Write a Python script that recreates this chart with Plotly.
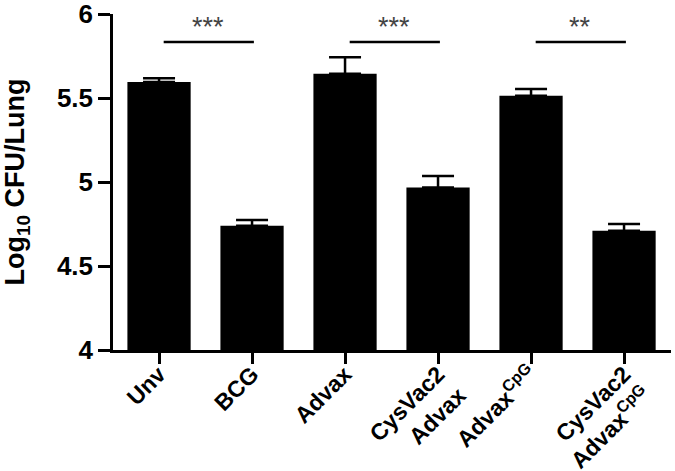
import plotly.graph_objects as go

groups = ["Unv", "BCG", "Advax", "CysVac2<br>Advax", "Advax<sup>CpG</sup>", "CysVac2<br>Advax<sup>CpG</sup>"]
means = [5.595, 4.740, 5.645, 4.968, 5.514, 4.710]
sem = [0.022, 0.034, 0.097, 0.068, 0.039, 0.040]

# significance brackets: (left group, right group, label)
sig_pairs = [(0, 1, "***"), (2, 3, "***"), (4, 5, "**")]
sig_level = 5.833

x = list(range(len(groups)))

fig = go.Figure()
fig.add_trace(
    go.Bar(
        x=x,
        y=[m - 4 for m in means],
        base=4,
        width=0.68,
        marker=dict(color="black", line=dict(width=0)),
        error_y=dict(type="data", symmetric=False, array=sem, arrayminus=[0] * len(sem),
                     color="black", thickness=2.5, width=16),
        showlegend=False,
    )
)

for a, b, label in sig_pairs:
    fig.add_trace(
        go.Scatter(
            x=[a + 0.05, b + 0.02], y=[sig_level, sig_level],
            mode="lines", line=dict(color="black", width=2.5),
            showlegend=False, hoverinfo="skip",
        )
    )
    fig.add_annotation(
        x=(a + b) / 2 + 0.03, y=sig_level, text=label, showarrow=False,
        yshift=15, font=dict(family="Arial, Liberation Sans", size=27, color="#444"),
    )

fig.update_layout(
    width=675, height=471,
    margin=dict(l=113, r=4, t=14, b=121),
    plot_bgcolor="white", paper_bgcolor="white",
    font=dict(family="Arial, Liberation Sans", color="black"),
)
fig.update_xaxes(
    range=[-0.495, 5.505], automargin=False, ticklabeloverflow="allow",
    tickvals=x, ticktext=["<b>%s</b>" % g for g in groups],
    tickangle=-45, tickfont=dict(size=23), ticklabelstandoff=-12,
    showline=True, linecolor="black", linewidth=2.5,
    ticks="outside", ticklen=11, tickwidth=2.5, tickcolor="black",
    showgrid=False, zeroline=False,
)
fig.update_yaxes(
    range=[4, 6], automargin=False, ticklabeloverflow="allow",
    tickvals=[4, 4.5, 5, 5.5, 6],
    ticktext=["<b>4</b>", "<b>4.5</b>", "<b>5</b>", "<b>5.5</b>", "<b>6</b>"],
    tickfont=dict(size=26),
    title=dict(text="<b>Log<sub>10</sub> CFU/Lung</b>", font=dict(size=27), standoff=26),
    showline=True, linecolor="black", linewidth=2.5,
    ticks="outside", ticklen=12, tickwidth=2.5, tickcolor="black",
    showgrid=False, zeroline=False,
)

# the page's default body margin would shift the figure by 8px
fig.write_html("out.html", config={"displayModeBar": False},
               post_script="document.body.style.margin='0';")
